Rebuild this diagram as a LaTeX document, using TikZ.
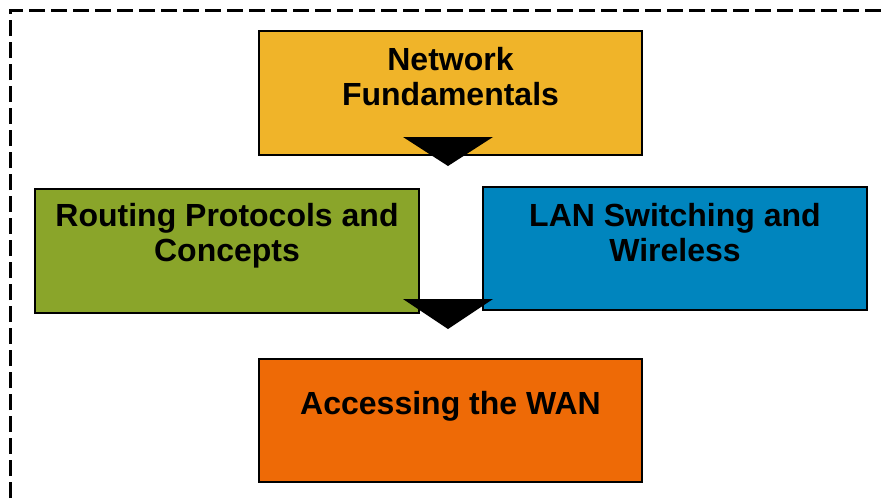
\documentclass[tikz,border=0pt]{standalone}
\usepackage{fontspec}
\setmainfont{Liberation Sans}
\definecolor{fundyellow}{HTML}{F0B429}
\definecolor{routegreen}{HTML}{8AA52A}
\definecolor{lanblue}{HTML}{0085BE}
\definecolor{wanorange}{HTML}{EE6A06}
\begin{document}
\begin{tikzpicture}[x=1pt,y=-1pt,
  course/.style={draw=black,line width=1.8pt,inner sep=0pt},
  label/.style={font=\fontsize{32}{35}\selectfont\bfseries,align=center,inner sep=0pt},
  pointer/.style={fill=black,draw=none}]
\useasboundingbox (0,0) rectangle (881,501);
% dashed outer frame, running off the right and bottom edges
\draw[line width=2.2pt,dash pattern=on 16pt off 6pt] (10.5,520) -- (10.5,10.5) -- (900,10.5);
% course boxes
\node[course,fill=fundyellow,minimum width=383pt,minimum height=124pt] (fund) at (450.5,93) {};
\node[course,fill=routegreen,minimum width=384pt,minimum height=124pt] (route) at (227,251) {};
\node[course,fill=lanblue,minimum width=384pt,minimum height=123pt] (lan) at (675,248.5) {};
\node[course,fill=wanorange,minimum width=383pt,minimum height=123pt] (wan) at (450.5,420.5) {};
% titles
\node[label] (fundt) at (450.5,77) {Network\\Fundamentals};
\node[label] (routet) at (227,236) {Routing Protocols and\\Concepts};
\node[label] (lant) at (675,233) {LAN Switching and\\Wireless};
\node[label] (want) at (450.5,406.5) {Accessing the WAN};
% downward pointers between levels
\coordinate (p1) at (448,166);
\coordinate (p2) at (448,329);
\fill[pointer] (p1) ++(-45,-29) -- ++(90,0) -- (p1) -- cycle;
\fill[pointer] (p2) ++(-45,-30) -- ++(90,0) -- (p2) -- cycle;
\end{tikzpicture}
\end{document}
